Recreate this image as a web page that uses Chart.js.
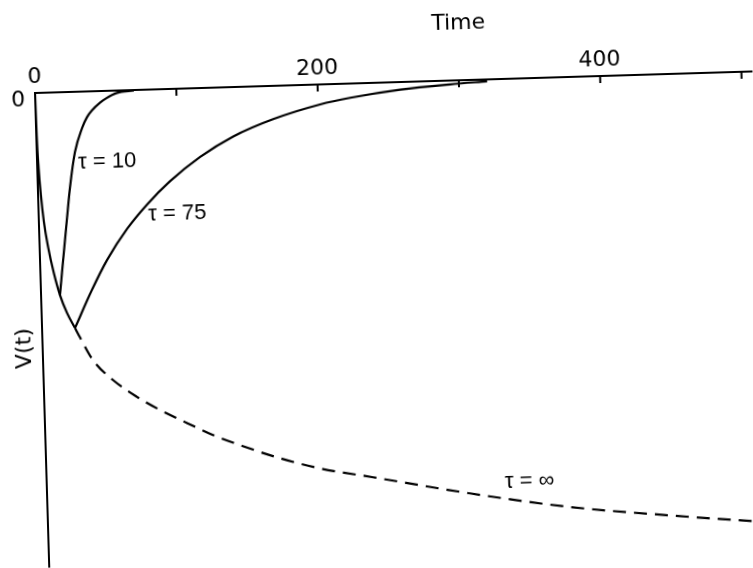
<!DOCTYPE html>
<html>
<head>
<meta charset="utf-8">
<script src="https://cdn.jsdelivr.net/npm/chart.js@4.4.1/dist/chart.umd.min.js"></script>
<style>
  html, body { margin: 0; padding: 0; background: #fff; overflow: hidden; }
  #wrap { position: absolute; left: 0; top: 0; width: 753px; height: 568px;
          transform: rotate(-1.72deg); transform-origin: 35px 93px; }
</style>
</head>
<body>
<div id="wrap"><canvas id="chartV" width="753" height="568"></canvas></div>
<script>
// values (time, V(t) in arbitrary units)
const timeInf = [0, 0.3, 1, 2, 3.5, 6, 9.5, 13.4, 18, 23.3, 26.6, 35.4, 49.1, 65.7, 81.7, 100.5, 118.6, 137.5, 165.5, 193.6, 230.9, 299.2, 369.6, 440, 508];
const vInf    = [0, -0.9, -1.6, -2.15, -2.7, -3.25, -3.8, -4.27, -4.65, -4.97, -5.17, -5.66, -6.09, -6.46, -6.75, -7.04, -7.31, -7.54, -7.84, -8.08, -8.30, -8.70, -9.05, -9.29, -9.49];

const time10 = [13.4, 15.3, 20.0, 22.8, 27.0, 32.5, 36.3, 40, 46, 50, 58, 70];
const v10    = [-4.27, -3.79, -2.65, -2.0, -1.27, -0.77, -0.54, -0.40, -0.24, -0.16, -0.05, -0.01];

const time75 = [23.3, 36.1, 47.4, 62.2, 76.8, 93.7, 115.4, 139.2, 167.9, 201.4, 222.8, 258.4, 293.9, 320];
const v75    = [-4.97, -4.18, -3.56, -2.92, -2.42, -1.94, -1.45, -1.04, -0.70, -0.42, -0.30, -0.16, -0.08, -0.04];

const dashFrom = 23.3;   // tau = inf is dashed after the last branch
const xTicks = [0, 100, 200, 300, 400, 500];
const xTickLabels = ["0", "", "200", "", "400", ""];
const curveLabels = [
  { text: "\u03c4 = 10", t: 29, v: -1.5 },
  { text: "\u03c4 = 75", t: 77.4, v: -2.62 },
  { text: "\u03c4 = \u221e", t: 324, v: -8.49 }
];

const FONT = "DejaVu Sans";

function pts(xs, ys) {
  return xs.map((x, i) => ({ x: x, y: ys[i] }));
}

const figureText = {
  id: "figureText",
  afterDraw(chart) {
    const ctx = chart.ctx;
    const sx = chart.scales.x, sy = chart.scales.y;
    const area = chart.chartArea;
    ctx.save();
    // inward tick marks on the time axis
    ctx.strokeStyle = "#000";
    ctx.lineWidth = 2;
    xTicks.forEach(t => {
      if (t === 0) return;
      const px = sx.getPixelForValue(t);
      ctx.beginPath();
      ctx.moveTo(px, area.top);
      ctx.lineTo(px, area.top + 7);
      ctx.stroke();
    });

    ctx.fillStyle = "#000";
    ctx.font = "22px '" + FONT + "'";
    ctx.textBaseline = "middle";
    ctx.textAlign = "center";
    ctx.fillText("Time", sx.getPixelForValue(300.8), area.top - 57);

    ctx.save();
    ctx.translate(area.left - 17.7, sy.getPixelForValue(-5.37));
    ctx.rotate(-Math.PI / 2);
    ctx.fillText("V(t)", 0, 0);
    ctx.restore();

    ctx.font = "22px 'Liberation Sans'";
    ctx.textAlign = "left";
    curveLabels.forEach(l => {
      ctx.fillText(l.text, sx.getPixelForValue(l.t), sy.getPixelForValue(l.v));
    });
    ctx.restore();
  }
};

function LoadFigure(canvasName) {
  new Chart(document.getElementById(canvasName), {
    type: "line",
    data: {
      datasets: [{
        label: "tau = inf",
        data: pts(timeInf, vInf),
        borderColor: "#000",
        borderWidth: 2.2,
        segment: {
          borderDash: c => c.p0.parsed.x >= dashFrom ? [13, 8] : undefined
        }
      }, {
        label: "tau = 10",
        data: pts(time10, v10),
        borderColor: "#000",
        borderWidth: 2.2
      }, {
        label: "tau = 75",
        data: pts(time75, v75),
        borderColor: "#000",
        borderWidth: 2.2
      }]
    },
    options: {
      responsive: false,
      animation: false,
      layout: { padding: 0 },
      elements: {
        point: { radius: 0 },
        line: { cubicInterpolationMode: "monotone", fill: false }
      },
      plugins: { legend: { display: false }, tooltip: { enabled: false } },
      scales: {
        x: {
          type: "linear",
          position: "top",
          min: 0,
          max: 508,
          afterBuildTicks: s => { s.ticks = xTicks.map(v => ({ value: v })); },
          afterFit: s => { s.height = 93; s.paddingLeft = 0; s.paddingRight = 0; },
          border: { color: "#000", width: 2 },
          grid: { drawOnChartArea: false, drawTicks: false },
          ticks: {
            autoSkip: false,
            padding: 3,
            maxRotation: 0,
            color: "#000",
            font: { family: FONT, size: 22 },
            callback: (v, i) => xTickLabels[i]
          }
        },
        y: {
          type: "linear",
          min: -10,
          max: 0,
          afterFit: s => { s.width = 35; s.paddingTop = 0; s.paddingBottom = 0; },
          border: { color: "#000", width: 2 },
          grid: { drawOnChartArea: false, drawTicks: false },
          ticks: {
            autoSkip: false,
            padding: 10,
            labelOffset: 7,
            color: "#000",
            font: { family: FONT, size: 22 },
            callback: v => (v === 0 ? "0" : "")
          }
        }
      }
    },
    plugins: [figureText]
  });
}

LoadFigure("chartV");
</script>
</body>
</html>
